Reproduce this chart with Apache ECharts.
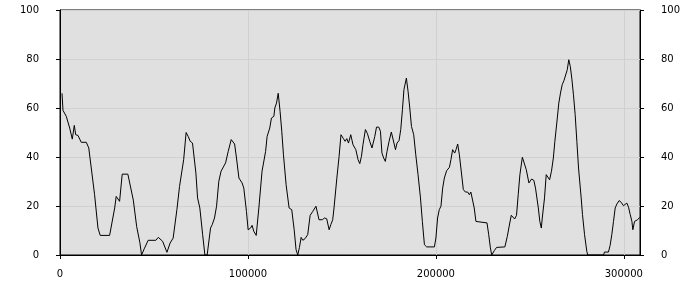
<!DOCTYPE html>
<html>
<head>
<meta charset="utf-8">
<script src="https://cdn.jsdelivr.net/npm/echarts@6/dist/echarts.min.js"></script>
<style>html,body{margin:0;padding:0;background:#fff;}#c{width:700px;height:300px;}</style>
</head>
<body>
<div id="c"></div>
<script>
// x positions (in units) and values
const xValues = [
  1060,1600,3350,5160,6540,7600,8350,9570,11300,14000,15300,18400,20200,21400,26400,29100,29900,31700,33100,36100,
  39000,40800,42500,43400,44800,46900,51000,52300,54600,56900,58600,60200,62200,63600,64300,65800,67100,68200,69300,70500,
  72300,73200,74400,75900,77100,78300,80100,81000,82200,83300,84500,85700,88100,89500,91100,92900,93900,95200,96900,97800,
  99200,100100,101400,102200,103100,104400,105800,107500,109400,110200,111600,112500,113800,114300,115200,116100,117100,118000,118900,120300,
  121900,123300,124600,125600,126500,127400,128300,129200,130400,131800,133100,134500,136200,137000,137800,139600,140700,141900,143200,144100,
  145100,145800,147300,148500,149500,150800,151700,152600,153500,154700,155900,157400,158600,159500,160400,161200,162500,163600,164800,166000,
  167500,168400,169600,170500,171300,172200,173100,174000,175100,176300,177200,178500,179300,180400,181300,182200,183000,184300,185200,186100,
  187000,188200,189300,190500,191800,192800,193900,195100,199200,200000,200900,201800,202700,203600,204500,205700,207200,208000,208900,210000,
  210700,211600,212500,213300,214600,215700,216900,217800,218600,219500,220400,221300,222200,227200,228100,229000,229700,231100,232300,233200,
  236700,238000,238800,240100,240900,241900,242900,243800,244700,246000,246800,248100,249500,250900,252100,253000,254500,255300,256100,256600,
  257800,258700,259600,260500,261500,262500,263300,264600,265400,266300,267200,268100,269000,269900,270700,271500,272300,273200,274100,275000,
  275900,277300,278000,279100,280300,280800,289200,289700,291800,292700,293600,294500,295400,296300,297500,298600,299800,300700,301600,302500,
  303400,304300,304800,305700,306600,307300,308500
];
const yValues = [
  66,59,56.6,51.8,47.3,52.9,49.1,48.8,46,46,43.7,24.6,11,8,8,19.2,23.9,21.9,33,33,
  22.4,11.6,5,0,2.5,6,6,7.2,5.6,1.1,4.9,6.9,18.5,28,28,38.9,50,48.4,46.4,45.7,
  33.5,23.3,19.2,8.3,0,0,11,12.4,15.1,19.9,30.1,34.2,37.6,42.3,47.1,45.3,39.6,31.4,29.4,27.3,
  17.8,10.3,11,12.1,9.7,8,19.2,34.2,42.3,48.4,51.8,55.9,56.6,60,62,66,58.6,50.5,40.9,28.7,
  19.2,18.5,10.3,2.2,0,3.1,7.2,6,6.7,8.3,16.2,17.8,19.9,19.2,14.4,14.4,15.1,14.8,10.3,12.4,
  14.4,19.2,31.4,40.3,49.1,47.5,46.4,47.5,45.7,49.1,45,43,38.9,37.3,40.3,45,51.2,49.5,46.4,43.7,
  48.4,52.2,52.2,50.5,41.6,39.6,38.2,42.3,46.4,50.2,49.4,43,45.7,46.7,51.2,59.3,67.5,72.2,66.8,60,
  52.5,49.1,40.9,32.8,23.3,13.7,4.2,3.3,3.3,6.9,15.1,18.5,19.9,27.3,31.4,34.4,35.8,38.9,43,41.6,
  43,45.3,40.9,35.5,26.7,25.7,25.7,24.6,25.7,26.2,19.2,13.7,13.1,13.1,8.3,2.9,0,1.8,3.1,3.3,
  3.3,7.6,11,16.2,16,14.7,16.2,24.6,32.8,39.9,39.6,34.8,29.4,31,30.5,27.3,19.2,13.7,11,15.1,
  23.3,32.8,32.8,30.7,34.2,39.6,46.4,55.9,62,66.1,69.5,71.1,71.6,75.6,79.7,77,72.2,65.4,57.3,46.4,
  35.5,23.3,16.5,8.3,1.5,0,0,1.2,1.2,3.9,8.3,13.7,19.2,20.8,22.2,21.5,20.1,20.1,21.2,19.5,
  16.5,13.7,10.3,13.7,13.1,14.4,15.4
];
const yTicks = [0, 20, 40, 60, 80, 100];
const xTicks = [0, 100000, 200000, 300000];

const seriesData = xValues.map((x, i) => [x, yValues[i]]);
const font = { fontFamily: 'DejaVu Sans', fontSize: 10, color: '#000' };
const yAxisBase = {
  type: 'value', min: yTicks[0], max: yTicks[yTicks.length - 1], interval: 20,
  axisLine: { show: true, lineStyle: { color: '#000', width: 1 } },
  axisTick: { show: true, length: 4, lineStyle: { color: '#000' } },
  splitLine: { show: true, lineStyle: { color: '#d0d0d0', width: 1 } },
  axisLabel: Object.assign({ margin: 21 }, font)
};
const chart = echarts.init(document.getElementById('c'), null, { renderer: 'canvas' });
chart.setOption({
  animation: false,
  grid: { left: 60, right: 60, top: 10, bottom: 45, show: true, backgroundColor: '#e0e0e0', borderColor: '#000', borderWidth: 1 },
  xAxis: {
    type: 'value', min: xTicks[0], max: 308600, interval: 100000,
    axisLine: { show: true, onZero: false, lineStyle: { color: '#000', width: 1 } },
    axisTick: { show: true, length: 4, lineStyle: { color: '#000' } },
    splitLine: { show: true, lineStyle: { color: '#d0d0d0', width: 1 } },
    axisLabel: Object.assign({ margin: 14, showMaxLabel: false, formatter: v => xTicks.includes(v) ? String(v) : '' }, font)
  },
  yAxis: [
    Object.assign({ position: 'left' }, yAxisBase),
    Object.assign({ position: 'right' }, yAxisBase, { splitLine: { show: false } })
  ],
  series: [{
    type: 'line', data: seriesData, symbol: 'none', yAxisIndex: 0,
    lineStyle: { color: '#000', width: 1 }
  }]
});
</script>
</body>
</html>
